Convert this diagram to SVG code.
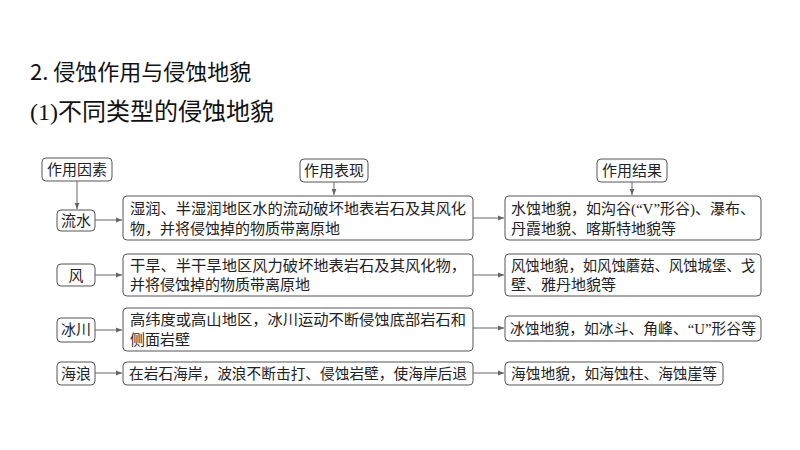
<svg xmlns="http://www.w3.org/2000/svg" width="800" height="450" viewBox="0 0 800 450">
<defs>
<marker id="ar" viewBox="0 0 10 10" refX="10" refY="5" markerWidth="6" markerHeight="6" orient="auto"><path d="M0,1 L10,5 L0,9 z" fill="#666"/></marker>
<style>
.b{fill:#fff;stroke:#555;stroke-width:1}
.t{font-family:"Liberation Serif","Noto Sans CJK SC",serif;font-size:15px;fill:#222}
.c{stroke:#666;stroke-width:1;fill:none;marker-end:url(#ar)}
.h{font-family:"Noto Sans CJK SC",sans-serif;fill:#111}
</style>
</defs>
<rect width="800" height="450" fill="#fff"/>
<text class="h" x="30" y="80" font-size="22">2. 侵蚀作用与侵蚀地貌</text>
<text class="h" x="30" y="120" font-size="24" style="font-family:'Liberation Serif','Noto Sans CJK SC',serif">(1)不同类型的侵蚀地貌</text>
<g id="h1"><rect class="b" x="42" y="158" width="70" height="23" rx="4"/><text class="t" x="77" y="175" text-anchor="middle">作用因素</text></g>
<g id="h2"><rect class="b" x="300" y="159" width="68" height="23" rx="4"/><text class="t" x="334" y="176" text-anchor="middle">作用表现</text></g>
<g id="h3"><rect class="b" x="597" y="159" width="70" height="23" rx="4"/><text class="t" x="632" y="176" text-anchor="middle">作用结果</text></g>
<g id="f1"><rect class="b" x="57" y="210" width="38" height="21" rx="4"/><text class="t" x="76" y="226" text-anchor="middle">流水</text></g>
<g id="f2"><rect class="b" x="57" y="264" width="38" height="22" rx="4"/><text class="t" x="76" y="281" text-anchor="middle">风</text></g>
<g id="f3"><rect class="b" x="57" y="318" width="38" height="24" rx="4"/><text class="t" x="76" y="335" text-anchor="middle">冰川</text></g>
<g id="f4"><rect class="b" x="57" y="362" width="38" height="23" rx="4"/><text class="t" x="76" y="379" text-anchor="middle">海浪</text></g>
<g id="m1"><rect class="b" x="123" y="196" width="350" height="44" rx="4"/><text class="t" x="130" y="214" textLength="336" lengthAdjust="spacingAndGlyphs">湿润、半湿润地区水的流动破坏地表岩石及其风化</text><text class="t" x="130" y="234">物，并将侵蚀掉的物质带离原地</text></g>
<g id="m2"><rect class="b" x="123" y="254" width="350" height="42" rx="4"/><text class="t" x="130" y="271" textLength="336" lengthAdjust="spacingAndGlyphs">干旱、半干旱地区风力破坏地表岩石及其风化物，</text><text class="t" x="130" y="290">并将侵蚀掉的物质带离原地</text></g>
<g id="m3"><rect class="b" x="123" y="308" width="350" height="43" rx="4"/><text class="t" x="130" y="325" textLength="336" lengthAdjust="spacingAndGlyphs">高纬度或高山地区，冰川运动不断侵蚀底部岩石和</text><text class="t" x="130" y="345">侧面岩壁</text></g>
<g id="m4"><rect class="b" x="123" y="362" width="350" height="23" rx="4"/><text class="t" x="129" y="379" textLength="338" lengthAdjust="spacingAndGlyphs">在岩石海岸，波浪不断击打、侵蚀岩壁，使海岸后退</text></g>
<g id="r1"><rect class="b" x="505" y="196" width="256" height="44" rx="4"/><text class="t" x="511" y="214" textLength="244" lengthAdjust="spacingAndGlyphs">水蚀地貌，如沟谷(“V”形谷)、瀑布、</text><text class="t" x="511" y="234">丹霞地貌、喀斯特地貌等</text></g>
<g id="r2"><rect class="b" x="505" y="254" width="256" height="42" rx="4"/><text class="t" x="511" y="271" textLength="244" lengthAdjust="spacingAndGlyphs">风蚀地貌，如风蚀蘑菇、风蚀城堡、戈</text><text class="t" x="511" y="290">壁、雅丹地貌等</text></g>
<g id="r3"><rect class="b" x="505" y="316" width="256" height="25" rx="4"/><text class="t" x="510" y="334" textLength="246" lengthAdjust="spacingAndGlyphs">冰蚀地貌，如冰斗、角峰、“U”形谷等</text></g>
<g id="r4"><rect class="b" x="505" y="362" width="218" height="23" rx="4"/><text class="t" x="511" y="379" textLength="206" lengthAdjust="spacingAndGlyphs">海蚀地貌，如海蚀柱、海蚀崖等</text></g>
<g id="connectors">
<line class="c" x1="77" y1="181" x2="77" y2="209"/>
<line class="c" x1="334" y1="182" x2="334" y2="195"/>
<line class="c" x1="632" y1="182" x2="632" y2="195"/>
<line class="c" x1="95" y1="220" x2="122" y2="220"/>
<line class="c" x1="95" y1="275" x2="122" y2="275"/>
<line class="c" x1="95" y1="330" x2="122" y2="330"/>
<line class="c" x1="95" y1="373" x2="122" y2="373"/>
<line class="c" x1="473" y1="218" x2="504" y2="218"/>
<line class="c" x1="473" y1="275" x2="504" y2="275"/>
<line class="c" x1="473" y1="328" x2="504" y2="328"/>
<line class="c" x1="473" y1="373" x2="504" y2="373"/>
</g>
</svg>
